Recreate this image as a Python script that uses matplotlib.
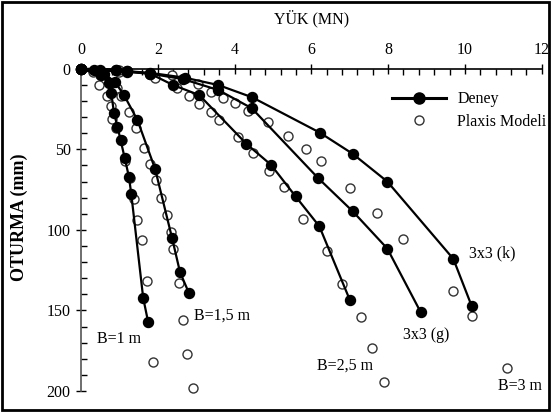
import matplotlib.pyplot as plt
from matplotlib.patches import Rectangle
from matplotlib.ticker import MultipleLocator

# Deney (test) curves: load MN, settlement mm
b1_load = [0, 0.51, 0.73, 0.79, 0.86, 0.95, 1.03, 1.14, 1.25, 1.31, 1.62, 1.75]
b1_sett = [0, 3.9, 9.0, 15.2, 27.6, 35.9, 44.1, 55.5, 67.2, 77.8, 142.2, 157.3]

b15_load = [0, 0.35, 0.6, 0.88, 1.12, 1.47, 1.93, 2.37, 2.58, 2.81]
b15_sett = [0, 1, 3, 8, 16.3, 31.8, 62.1, 104.8, 126.3, 139.1]

b25_load = [0, 0.5, 1.2, 1.8, 2.4, 3.08, 4.31, 4.95, 5.59, 6.21, 7.0]
b25_sett = [0, 1, 2, 3, 10.1, 16.3, 46.6, 59.6, 79.2, 97.8, 143.3]

g_load = [0, 0.9, 1.2, 1.8, 2.66, 3.58, 4.45, 6.18, 7.08, 7.98, 8.85]
g_sett = [0, 0.5, 1.5, 3, 6.4, 13.2, 24.5, 67.9, 88.5, 111.6, 151.1]

k_load = [0, 0.9, 1.2, 1.8, 2.7, 3.58, 4.46, 6.22, 7.08, 7.98, 9.70, 10.18]
k_sett = [0, 0.5, 1.5, 2.5, 5.5, 10.1, 17.7, 39.6, 52.8, 70.0, 118.0, 147.4]

# Plaxis model points
p1_load = [0, 0.3, 0.47, 0.68, 0.77, 0.82, 0.9, 1.06, 1.15, 1.27, 1.38, 1.47, 1.58, 1.71, 1.75, 1.88]
p1_sett = [0, 2, 10, 17, 23, 31, 37, 44, 57, 68, 81, 94, 106, 132, 157, 182]

p15_load = [0, 0.5, 0.94, 1.05, 1.25, 1.42, 1.64, 1.80, 1.95, 2.09, 2.25, 2.34, 2.40, 2.56, 2.66, 2.77, 2.91]
p15_sett = [0, 4, 12, 17, 27, 37, 49, 59, 69, 80, 91, 101, 112, 133, 156, 177, 198]

p25_load = [0, 1.0, 1.93, 2.49, 2.81, 3.08, 3.39, 3.59, 4.10, 4.49, 4.90, 5.29, 5.79, 6.40, 6.80, 7.29, 7.59, 7.90]
p25_sett = [0, 2, 6, 12, 17, 22, 27, 32, 42.5, 52.4, 63.2, 73.1, 93.1, 113.3, 133.5, 153.9, 173.6, 194.4]

p3_load = [0, 1.0, 2.36, 3.04, 3.39, 3.71, 4.01, 4.34, 4.88, 5.40, 5.85, 6.25, 7.02, 7.70, 8.39, 9.70, 10.18, 11.09]
p3_sett = [0, 1, 4, 9.5, 14.2, 18.3, 21.4, 26, 32.8, 41.7, 49.7, 57.2, 74.1, 89.5, 105.6, 138.1, 153.6, 185.5]

labels = ["B=1 m", "B=1,5 m", "B=2,5 m", "3x3 (g)", "3x3 (k)", "B=3 m"]
label_x = [0.99, 3.68, 6.89, 8.98, 10.72, 11.43]
label_y = [168, 153, 184, 165, 114.7, 196.8]

plt.rcParams['font.family'] = ['Liberation Serif', 'DejaVu Serif']

fig = plt.figure(figsize=(5.51, 4.12), dpi=100)
ax = fig.add_axes([0.147, 0.051, 0.836, 0.782])

deney = [(b1_load, b1_sett), (b15_load, b15_sett), (b25_load, b25_sett),
         (g_load, g_sett), (k_load, k_sett)]
plaxis = [(p1_load, p1_sett), (p15_load, p15_sett), (p25_load, p25_sett),
          (p3_load, p3_sett)]

for x, y in plaxis:
    ax.plot(x, y, ls='none', marker='o', ms=6.5, mfc='white', mec='#333333',
            mew=1.0, clip_on=False, zorder=2)
for x, y in deney:
    ax.plot(x, y, color='black', lw=1.6, marker='o', ms=7.2, mfc='black',
            mec='black', clip_on=False, zorder=3)

for t, x, y in zip(labels, label_x, label_y):
    ax.text(x, y, t, fontsize=11.5, ha='center', va='center')

ax.set_xlim(0, 12)
ax.set_ylim(200, 0)
ax.xaxis.tick_top()
ax.xaxis.set_label_position('top')
ax.set_xlabel("YÜK (MN)", fontsize=11.5, labelpad=14)
ax.set_ylabel("OTURMA (mm)", fontsize=13, fontweight='bold', labelpad=12)
ax.yaxis.set_label_coords(-0.115, 0.54)
ax.xaxis.set_major_locator(MultipleLocator(2))
ax.xaxis.set_minor_locator(MultipleLocator(0.4))
ax.yaxis.set_major_locator(MultipleLocator(50))
ax.yaxis.set_minor_locator(MultipleLocator(10))
ax.tick_params(which='major', direction='inout', length=7, width=1, labelsize=11.5, pad=4)
ax.tick_params(which='minor', direction='in', length=4, width=1)
ax.tick_params(axis='x', which='both', top=True, bottom=False)
ax.spines['right'].set_visible(False)
ax.spines['bottom'].set_visible(False)
ax.spines['top'].set_linewidth(1.2)
ax.spines['left'].set_linewidth(1.2)
ax.spines['left'].set_color('#555555')
ax.patch.set_visible(False)

# legend drawn by hand-made handles
h1, = ax.plot([], [], color='black', lw=2.2, marker='o', ms=8, mfc='black')
h2, = ax.plot([], [], ls='none', marker='o', ms=6.5, mfc='white', mec='#333333')
ax.legend([h1, h2], ["Deney", "Plaxis Modeli"], loc='upper left',
          bbox_to_anchor=(0.675, 0.93), frameon=False, fontsize=11.5,
          borderpad=0, borderaxespad=0,
          handlelength=3.4, handletextpad=0.7, labelspacing=0.4)

fig.patches.append(Rectangle((0.004, 0.006), 0.992, 0.988, transform=fig.transFigure,
                             fill=False, ec='black', lw=2))

fig.savefig("out.png", dpi=100)
